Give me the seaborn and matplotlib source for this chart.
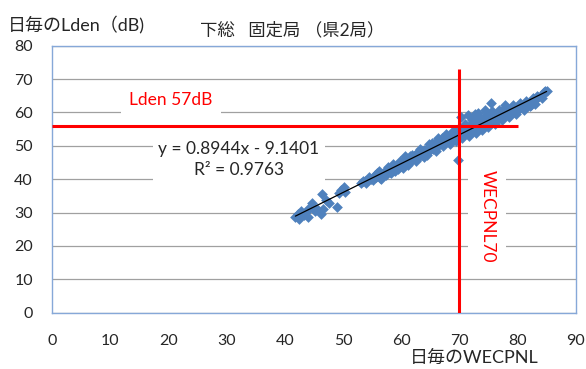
import matplotlib
matplotlib.use('Agg')
import matplotlib.pyplot as plt
import seaborn as sns
import pandas as pd

# daily values (x: WECPNL, y: Lden)
wecpnl = [41.8, 42.3, 42.8, 43.2, 43.6, 44.0, 44.6, 45.0, 45.5, 46.2, 46.3, 46.6, 47.0, 47.5,
          48.9, 49.3, 49.6, 50.1, 50.4,
          53.0, 53.5, 54.0, 54.3, 54.8, 55.2, 55.6, 56.0, 56.3, 56.7, 57.0, 57.3, 57.6, 58.0,
          58.2, 58.5, 58.8, 59.1, 59.4, 59.7, 60.0, 60.2, 60.5, 60.8, 61.0, 61.3, 61.6, 61.9,
          62.1, 62.4, 62.7, 63.0, 63.2, 63.5, 63.8, 64.0, 64.3, 64.6, 64.9, 65.1, 65.4, 65.7,
          66.0, 66.2, 66.5, 66.8, 67.0, 67.3, 67.6, 67.9, 68.1, 68.4, 68.7, 69.0, 69.2, 69.5,
          69.7, 69.8, 70.1, 70.4, 70.6, 70.9, 71.2, 71.5, 71.8, 72.0, 72.3, 72.6, 72.9, 73.2,
          73.5, 73.8, 74.0, 74.3, 74.6, 74.9, 75.2, 75.5, 75.8, 76.1, 76.4, 76.7, 77.0, 77.3,
          77.6, 77.9, 78.2, 78.5, 78.8, 79.1, 79.4, 79.7, 80.0, 80.3, 80.6, 81.0, 81.3, 81.7,
          82.0, 82.4, 82.8, 83.2, 83.6, 84.0, 84.4, 84.8,
          54.5, 55.5, 56.5, 57.5, 58.3, 59.0, 59.8, 60.3, 61.2, 61.8, 62.5, 63.3, 63.9, 64.5,
          65.3, 65.9, 66.4, 67.1, 67.7, 68.3, 68.9, 69.4, 70.0, 70.5, 71.0, 71.6, 72.2, 72.8,
          73.4, 73.9, 74.5, 75.0, 75.6, 76.2, 76.8, 77.4, 78.0, 78.6, 79.2, 79.8, 80.4, 81.1,
          81.5, 82.2, 82.6, 83.0, 83.4, 84.2, 84.6, 85.0,
          70.3, 71.5, 72.6, 73.2, 74.4, 75.4, 77.8,
          42.5, 43.9, 45.2, 53.8, 55.9, 57.8, 59.5, 61.5, 63.6, 65.6, 67.4, 69.1, 71.3, 73.0,
          74.8, 76.5, 78.3, 80.2, 82.3,
          56.1, 58.6, 60.7, 62.9, 64.8, 66.7, 68.6]
lden = [28.8, 29.5, 30.6, 29.2, 30.2, 28.6, 32.8, 31.5, 31.0, 29.6, 35.6, 31.0, 33.7, 33.0,
        31.6, 35.8, 36.7, 37.6, 36.2,
        38.9, 39.4, 39.0, 39.9, 40.2, 39.8, 40.6, 41.3, 40.5, 41.7, 42.0, 41.2, 42.6, 42.3,
        43.1, 43.6, 42.8, 44.0, 43.5, 44.5, 44.0, 45.2, 44.7, 45.5, 45.0, 46.2, 45.6, 46.8,
        46.1, 47.2, 46.6, 47.8, 47.0, 48.3, 47.6, 48.8, 48.0, 49.3, 48.6, 49.8, 49.0, 50.3,
        49.6, 51.5, 50.2, 51.0, 52.3, 50.8, 51.6, 52.8, 51.4, 52.4, 53.3, 52.0, 53.0, 54.0,
        45.7, 52.6, 53.6, 54.6, 53.2, 54.2, 55.3, 53.9, 55.0, 56.6, 54.6, 55.6, 57.2, 55.3,
        56.2, 57.8, 55.9, 56.8, 58.3, 56.6, 57.5, 59.0, 57.3, 58.2, 59.6, 58.0, 58.9, 60.3,
        58.8, 59.7, 60.8, 59.5, 60.3, 61.3, 60.2, 61.0, 61.8, 60.9, 61.6, 62.3, 61.7, 62.6,
        62.9, 63.2, 63.6, 64.0, 64.5, 65.0, 65.6, 66.4,
        40.8, 41.2, 40.2, 43.2, 41.8, 42.6, 45.6, 43.4, 44.4, 47.4, 45.5, 49.0, 46.6, 47.4,
        50.8, 48.3, 52.3, 49.9, 53.6, 50.6, 54.4, 51.4, 55.4, 52.2, 56.4, 52.9, 57.6, 53.8,
        58.2, 54.8, 59.2, 55.6, 60.3, 56.6, 60.8, 57.6, 61.7, 58.6, 62.3, 59.4, 62.8, 60.6,
        63.4, 61.8, 64.2, 62.6, 65.0, 64.2, 66.0, 66.5,
        58.6, 59.1, 59.4, 59.8, 60.6, 62.7, 62.2,
        28.2, 31.2, 30.4, 39.6, 41.9, 43.8, 43.0, 46.9, 47.3, 49.4, 51.2, 53.6, 54.4, 56.9,
        57.2, 59.1, 60.0, 62.2, 62.2,
        42.6, 44.6, 46.9, 48.2, 50.6, 51.1, 52.9]

equation = 'y = 0.8944x - 9.1401\nR² = 0.9763'
lden_limit = 56
lden_line_end = 80
wecpnl_limit = 70
wecpnl_line_top = 73
x_ticks = [0, 10, 20, 30, 40, 50, 60, 70, 80, 90]
y_ticks = [0, 10, 20, 30, 40, 50, 60, 70, 80]

df = pd.DataFrame({'wecpnl': wecpnl, 'lden': lden})

sns.set_style('white')
plt.rcParams['font.family'] = ['Lato', 'Noto Sans CJK JP', 'DejaVu Sans']

fig = plt.figure(figsize=(5.86, 3.69), dpi=100)
ax = fig.add_axes([52.3 / 586, 1 - 312.7 / 369, 523.4 / 586, 267.0 / 369])

sns.scatterplot(data=df, x='wecpnl', y='lden', marker='D', s=30, color='#4F81BD',
                linewidth=0, ax=ax, zorder=3)
sns.regplot(data=df, x='wecpnl', y='lden', scatter=False, ci=None, ax=ax,
            line_kws={'color': 'black', 'lw': 0.9, 'zorder': 4})

ax.hlines(lden_limit, 0, lden_line_end, color='#FF0000', lw=2.2, zorder=5)
ax.vlines(wecpnl_limit, 0, wecpnl_line_top, color='#FF0000', lw=2.2, zorder=5)

ax.set_xlim(0, 90)
ax.set_ylim(0, 80)
ax.set_xticks(x_ticks)
ax.set_yticks(y_ticks)
ax.grid(axis='y', color='#A0A0A0', lw=0.9)
ax.set_axisbelow(True)
ax.tick_params(direction='out', length=5, width=0.8, color='#8C8C8C',
               labelsize=11.5, pad=9)
ax.tick_params(axis='x', pad=10)
for s in ax.spines.values():
    s.set_color('#86A8D8')
    s.set_linewidth(1.0)
ax.set_xlabel('')
ax.set_ylabel('')

ax.text(32.1, 45.9, equation, ha='center', va='center', fontsize=12.5,
        linespacing=1.45, bbox=dict(facecolor='white', edgecolor='none', pad=4), zorder=2)
ax.text(20.4, 63.7, 'Lden 57dB', ha='center', va='center', fontsize=12.5,
        color='#FF0000', bbox=dict(facecolor='white', edgecolor='none', pad=6), zorder=2)
ax.text(74.8, 29.0, 'WECPNL70', ha='center', va='center', fontsize=12.5,
        color='#FF0000', rotation=-90, bbox=dict(facecolor='white', edgecolor='none', pad=8),
        zorder=2)

fig.text(8 / 586, 1 - 31 / 369, '日毎のLden（dB)', fontsize=13, ha='left', va='baseline')
fig.text(292 / 586, 1 - 35 / 369, '下総   固定局 （県2局）', fontsize=12.5,
         ha='center', va='baseline')
fig.text(474 / 586, 1 - 359 / 369, '日毎のWECPNL', fontsize=13, ha='center', va='center')

fig.savefig('out.png', dpi=100)
